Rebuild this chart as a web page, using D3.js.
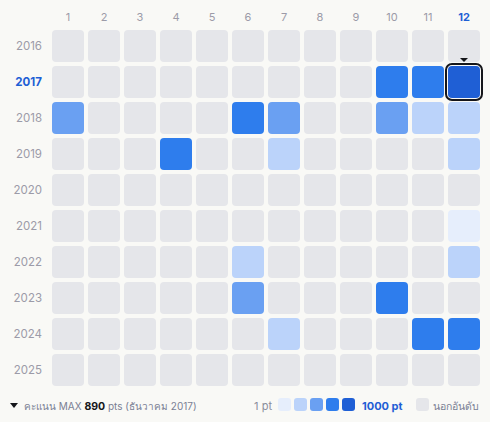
<!DOCTYPE html>
<html>
<head>
<meta charset="utf-8">
<script src="https://cdn.jsdelivr.net/npm/d3@7"></script>
<style>
  body { margin: 0; background: #f9f9f6; }
  svg { display: block; font-family: Inter, "Noto Sans", "DejaVu Sans", sans-serif; }
</style>
</head>
<body>
<div id="chart"></div>
<script>
// years shown as rows, months as columns
const years = [2016, 2017, 2018, 2019, 2020, 2021, 2022, 2023, 2024, 2025];
const months = [1, 2, 3, 4, 5, 6, 7, 8, 9, 10, 11, 12];

// points per month, null = out of ranking (นอกอันดับ)
const p2016 = [null, null, null, null, null, null, null, null, null, null, null, null];
const p2017 = [null, null, null, null, null, null, null, null, null, 720, 690, 890];
const p2018 = [510, null, null, null, null, 740, 470, null, null, 450, 260, 300];
const p2019 = [null, null, null, 700, null, null, 280, null, null, null, null, 310];
const p2020 = [null, null, null, null, null, null, null, null, null, null, null, null];
const p2021 = [null, null, null, null, null, null, null, null, null, null, null, 120];
const p2022 = [null, null, null, null, null, 250, null, null, null, null, null, 330];
const p2023 = [null, null, null, null, null, 480, null, null, null, 710, null, null];
const p2024 = [null, null, null, null, null, null, 240, null, null, null, 690, 650];
const p2025 = [null, null, null, null, null, null, null, null, null, null, null, null];
const points = [p2016, p2017, p2018, p2019, p2020, p2021, p2022, p2023, p2024, p2025];

const palette = ["#e6eefc", "#bbd3fa", "#6aa0f2", "#2e7ded", "#1f5fd5"];
const emptyColor = "#e5e6ea";

(function () {
    const width = 490, height = 422;
    const margin = { top: 30, left: 52 };
    const pitch = 36;

    const cells = [];
    years.forEach(function (y, i) {
        months.forEach(function (m, j) {
            cells.push({ year: y, month: m, value: points[i][j] });
        });
    });
    const maxCell = cells.reduce((a, b) => (b.value || 0) > (a.value || 0) ? b : a);

    // each band 32px with a 4px gap
    const x = d3.scaleBand().domain(months)
        .range([margin.left, margin.left + pitch * months.length - 4])
        .paddingInner(4 / pitch).paddingOuter(0);
    const y = d3.scaleBand().domain(years)
        .range([margin.top, margin.top + pitch * years.length - 4])
        .paddingInner(4 / pitch).paddingOuter(0);

    const color = d3.scaleQuantize().domain([1, 1000]).range(palette);

    const svg = d3.select("#chart").append("svg")
        .attr("width", width)
        .attr("height", height);

    svg.append("rect").attr("width", width).attr("height", height).attr("fill", "#f9f9f6");

    // month labels
    svg.append("g").selectAll("text")
        .data(months)
        .join("text")
        .attr("x", d => x(d) + x.bandwidth() / 2)
        .attr("y", 21)
        .attr("text-anchor", "middle")
        .attr("font-size", 11)
        .attr("font-weight", d => d === maxCell.month ? 700 : 400)
        .attr("fill", d => d === maxCell.month ? "#1f5fd5" : "#9c9ba8")
        .text(d => d);

    // year labels
    svg.append("g").selectAll("text")
        .data(years)
        .join("text")
        .attr("x", 42)
        .attr("y", d => y(d) + y.bandwidth() / 2 + 4)
        .attr("text-anchor", "end")
        .attr("font-size", 11.5)
        .attr("font-weight", d => d === maxCell.year ? 700 : 400)
        .attr("fill", d => d === maxCell.year ? "#1f5fd5" : "#9c9ba8")
        .text(d => d);

    // cells
    svg.append("g").selectAll("rect")
        .data(cells)
        .join("rect")
        .attr("x", d => x(d.month))
        .attr("y", d => y(d.year))
        .attr("width", x.bandwidth())
        .attr("height", y.bandwidth())
        .attr("rx", 4)
        .attr("fill", d => d.value == null ? emptyColor : color(d.value));

    // highlight max
    const mx = x(maxCell.month), my = y(maxCell.year);
    svg.append("rect")
        .attr("x", mx - 2)
        .attr("y", my - 2)
        .attr("width", x.bandwidth() + 4)
        .attr("height", y.bandwidth() + 4)
        .attr("rx", 6)
        .attr("fill", "none")
        .attr("stroke", "#15161a")
        .attr("stroke-width", 2);
    const tx = mx + x.bandwidth() / 2;
    svg.append("path")
        .attr("d", `M${tx - 4},${my - 8}L${tx + 4},${my - 8}L${tx},${my - 4}Z`)
        .attr("fill", "#15161a");

    // footer left
    const fy = 410;
    svg.append("path")
        .attr("d", `M10,${fy - 7}L18,${fy - 7}L14,${fy - 2}Z`)
        .attr("fill", "#15161a");
    const note = svg.append("text")
        .attr("x", 24)
        .attr("y", fy)
        .attr("font-size", 10)
        .attr("fill", "#7a7f94");
    note.append("tspan").text("คะแนน MAX ");
    note.append("tspan").attr("font-weight", 700).attr("font-size", 10.5).attr("fill", "#15161a").text(maxCell.value);
    note.append("tspan").text(` pts (ธันวาคม ${maxCell.year})`);

    // legend right
    const lg = svg.append("g");
    lg.append("text").attr("x", 272).attr("y", fy).attr("text-anchor", "end")
        .attr("font-size", 11).attr("fill", "#8a8d9c").text("1 pt");
    lg.selectAll("rect.sw")
        .data(palette)
        .join("rect")
        .attr("class", "sw")
        .attr("x", (d, i) => 278 + i * 16)
        .attr("y", 398)
        .attr("width", 13)
        .attr("height", 13)
        .attr("rx", 3)
        .attr("fill", d => d);
    lg.append("text").attr("x", 362).attr("y", fy)
        .attr("font-size", 11).attr("font-weight", 700).attr("fill", "#1f5fd5").text("1000 pt");
    lg.append("rect").attr("x", 416).attr("y", 398).attr("width", 13).attr("height", 13)
        .attr("rx", 3).attr("fill", emptyColor);
    lg.append("text").attr("x", 433).attr("y", fy)
        .attr("font-size", 10.5).attr("fill", "#7a7f94").text("นอกอันดับ");
})();
</script>
</body>
</html>
